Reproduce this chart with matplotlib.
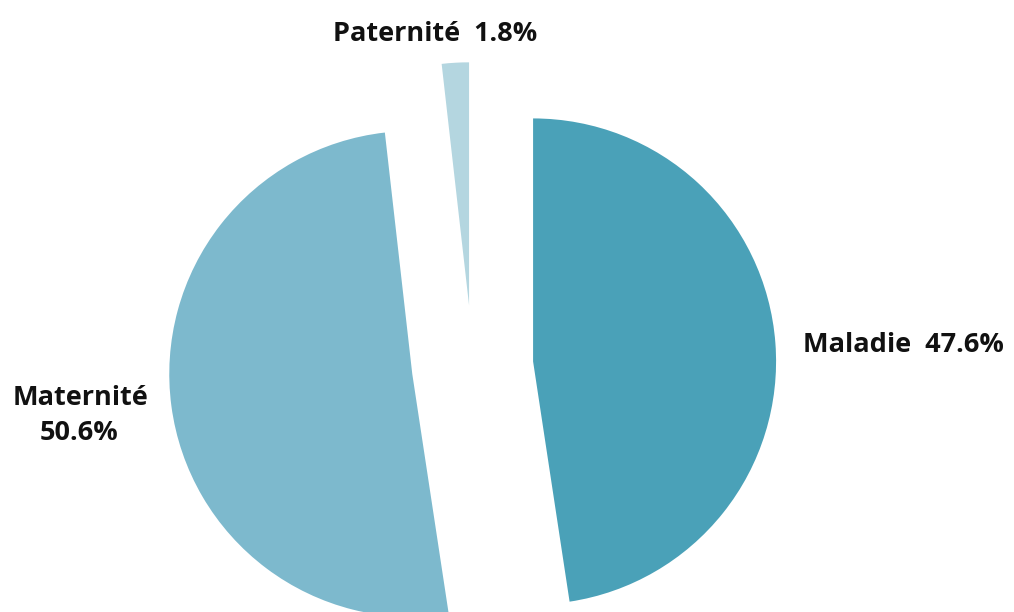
import matplotlib
matplotlib.use("Agg")
import matplotlib.pyplot as plt

# Répartition des indemnités journalières par type de congé
categories = ["Maladie", "Maternité", "Paternité"]
shares = [47.6, 50.6, 1.8]
colors = ["#4aa1b8", "#7db9cd", "#b4d6e0"]

W, H = 1014, 612
fig = plt.figure(figsize=(W / 100, H / 100), dpi=100)
ax = fig.add_axes([0, 0, 1, 1])

radius = 243
gap = 0.25 * radius
ax.pie(shares, colors=colors, startangle=90, counterclock=False,
       radius=radius, explode=[gap, gap, gap],
       wedgeprops=dict(linewidth=0))

# pixel-based frame: origin at the pie centre
cx, cy = 472.5, 366.0
ax.set_xlim(-cx, W - cx)
ax.set_ylim(-(H - cy), cy)
ax.set_aspect("equal")
ax.axis("off")

def px(x, y):
    return x - cx, cy - y

font = dict(family=["Open Sans", "DejaVu Sans"], fontweight="bold",
            fontsize=19.5, color="#111111")

ax.text(*px(435, 41), f"{categories[2]}  {shares[2]:.1f}%", ha="center",
        va="baseline", **font)
ax.text(*px(903, 352), f"{categories[0]}  {shares[0]:.1f}%", ha="center",
        va="baseline", **font)
ax.text(*px(80, 405), categories[1], ha="center", va="baseline", **font)
ax.text(*px(79, 440), f"{shares[1]:.1f}%", ha="center", va="baseline", **font)

fig.savefig("out.png", dpi=100)
